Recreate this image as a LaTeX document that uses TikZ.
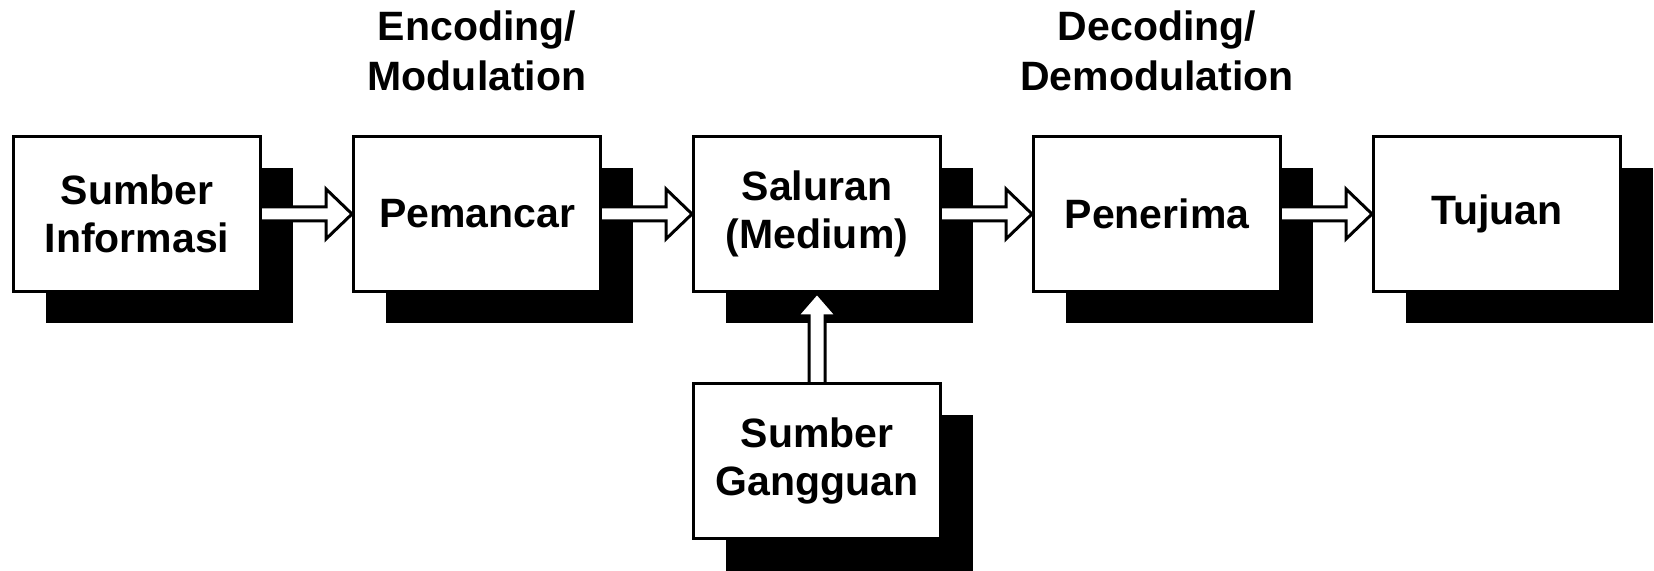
\documentclass[tikz,border=0pt]{standalone}
\usepackage{fontspec}
\setmainfont{Liberation Sans}
\usetikzlibrary{positioning, shadows, calc}

\newcommand{\harrow}[2]{%
  \draw[hollow] let \p1 = (#1.east), \p2 = (#2.west) in
    (\x1, \y1+3.5pt) -- (\x2-13pt, \y1+3.5pt) -- (\x2-13pt, \y1+12.5pt)
    -- (\x2, \y1) -- (\x2-13pt, \y1-12.5pt) -- (\x2-13pt, \y1-3.5pt)
    -- (\x1, \y1-3.5pt);}
\newcommand{\varrow}[2]{%
  \draw[hollow] let \p1 = (#1.north), \p2 = (#2.south) in
    (\x1-4pt, \y1) -- (\x1-4pt, \y2-11.5pt) -- (\x1-10pt, \y2-11.5pt)
    -- (\x1, \y2) -- (\x1+10pt, \y2-11.5pt) -- (\x1+4pt, \y2-11.5pt)
    -- (\x1+4pt, \y1);}

\begin{document}
\begin{tikzpicture}[block/.style = {draw, line width = 1.5pt, fill = white,
    minimum width = 123.5pt, minimum height = 77.5pt, align = center,
    font = \fontsize{20.5}{24.25}\selectfont\bfseries,
    drop shadow = {shadow xshift = 16pt, shadow yshift = -16pt,
      opacity = 1, fill = black}},
  title/.style = {align = center, inner sep = 0pt,
    font = \fontsize{20.5}{25}\selectfont\bfseries},
  hollow/.style = {draw, line width = 1.5pt, fill = white, line join = miter},
  node distance = 45pt]

  \useasboundingbox (0,0) rectangle (827pt,-285.5pt);

  \node[block, anchor = north west] (sumber) at (6pt,-67.5pt) {Sumber\\Informasi};
  \node[block, right = of sumber] (pemancar) {Pemancar};
  \node[block, right = of pemancar] (saluran) {Saluran\\(Medium)};
  \node[block, right = of saluran] (penerima) {Penerima};
  \node[block, right = of penerima] (tujuan) {Tujuan\vphantom{P}};

  \node[block, below = 44.5pt of saluran] (gangguan) {Sumber\\Gangguan};

  \node[title, above = 22pt of pemancar] (encoding) {Encoding/\\Modulation};
  \node[title, above = 22pt of penerima] (decoding) {Decoding/\\Demodulation};

  \harrow{sumber}{pemancar}
  \harrow{pemancar}{saluran}
  \harrow{saluran}{penerima}
  \harrow{penerima}{tujuan}
  \varrow{gangguan}{saluran}
\end{tikzpicture}
\end{document}
